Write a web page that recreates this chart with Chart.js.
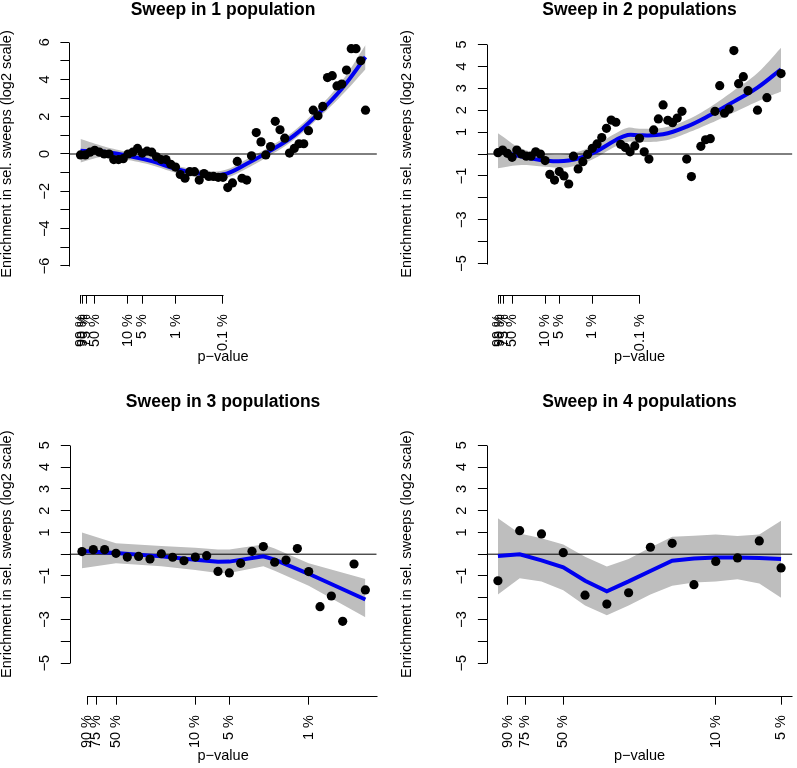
<!DOCTYPE html>
<html>
<head>
<meta charset="utf-8">
<title>Sweep enrichment</title>
<script src="https://cdn.jsdelivr.net/npm/chart.js@4.4.0/dist/chart.umd.min.js"></script>
<style>
  html, body { margin: 0; padding: 0; background: #fff; }
  #wrap { position: relative; width: 797px; height: 768px; }
  canvas { position: absolute; }
</style>
</head>
<body>
<div id="wrap">
  <canvas id="c1" width="400" height="384" style="left:0;top:0"></canvas>
  <canvas id="c2" width="397" height="384" style="left:400px;top:0"></canvas>
  <canvas id="c3" width="400" height="384" style="left:0;top:384px"></canvas>
  <canvas id="c4" width="397" height="384" style="left:400px;top:384px"></canvas>
</div>
<script>
// -log10(p) bins
const xSteps = [0.0, 0.1, 0.2, 0.3, 0.4, 0.5, 0.6, 0.7, 0.8, 0.9,
    1.0, 1.1, 1.2, 1.3, 1.4, 1.5, 1.6, 1.7, 1.8, 1.9,
    2.0, 2.1, 2.2, 2.3, 2.4, 2.5, 2.6, 2.7, 2.8, 2.9,
    3.0, 3.1, 3.2, 3.3, 3.4, 3.5, 3.6, 3.7, 3.8, 3.9,
    4.0, 4.1, 4.2, 4.3, 4.4, 4.5, 4.6, 4.7, 4.8, 4.9,
    5.0, 5.1, 5.2, 5.3, 5.4, 5.5, 5.6, 5.7, 5.8, 5.9, 6.0];

// p-value axis ticks
const pTickPos = [0.00436, 0.04576, 0.12494, 0.30103, 1, 1.30103, 2, 3];
const pTickLabels = ["99 %", "90 %", "75 %", "50 %", "10 %", "5 %", "1 %", "0.1 %"];

const yTicksSix = [-6, -5, -4, -3, -2, -1, 0, 1, 2, 3, 4, 5, 6];
const yLabelsSix = ["\u22126", "", "\u22124", "", "\u22122", "", "0", "", "2", "", "4", "", "6"];
const yTicksFive = [-5, -4, -3, -2, -1, 0, 1, 2, 3, 4, 5];
const yLabelsFive = ["\u22125", "", "\u22123", "", "\u22121", "", "1", "2", "3", "4", "5"];

// Sweep in 1 population
const sweep1X = xSteps;
const sweep1Y = [-0.05, -0.05, 0.1, 0.2, 0.1, 0, 0, -0.3, -0.3, -0.25,
    0, 0.1, 0.3, 0.05, 0.15, 0.1, -0.15, -0.3, -0.3, -0.55,
    -0.7, -1.1, -1.3, -0.95, -0.95, -1.4, -1.05, -1.2, -1.2, -1.25,
    -1.25, -1.8, -1.55, -0.4, -1.3, -1.4, -0.1, 1.15, 0.65, -0.05,
    0.4, 1.75, 1.3, 0.85, 0.05, 0.3, 0.55, 0.55, 1.25, 2.35,
    2.05, 2.55, 4.1, 4.2, 3.65, 3.75, 4.5, 5.65, 5.65, 5.0, 2.35];
const fit1X = [0, 0.5, 1, 1.5, 2, 2.5, 3, 3.5, 4, 4.5, 5, 5.5, 6];
const fit1Y = [0.18, 0.12, -0.1, -0.38, -0.8, -1.05, -1.1, -0.52, 0.18, 1.0, 2.15, 3.5, 5.2];
const band1Hi = [0.8, 0.4, 0.1, -0.15, -0.6, -0.85, -0.88, -0.28, 0.42, 1.25, 2.45, 3.9, 5.85];
const band1Lo = [-0.45, -0.15, -0.32, -0.6, -1.0, -1.25, -1.32, -0.78, -0.06, 0.78, 1.9, 3.15, 4.55];

// Sweep in 2 populations
const sweep2X = [0.0, 0.1, 0.2, 0.3, 0.4, 0.5, 0.6, 0.7, 0.8, 0.9,
    1.0, 1.1, 1.2, 1.3, 1.4, 1.5, 1.6, 1.7, 1.8, 1.9,
    2.0, 2.1, 2.2, 2.3, 2.4, 2.5, 2.6, 2.7, 2.8, 2.9,
    3.0, 3.1, 3.2, 3.3, 3.4, 3.5, 3.6, 3.7, 3.8, 3.9,
    4.0, 4.1, 4.3, 4.4, 4.5, 4.6, 4.7, 4.8, 4.9,
    5.0, 5.1, 5.2, 5.3, 5.5, 5.7, 6.0];
const sweep2Y = [0.06, 0.18, 0.03, -0.15, 0.18, 0.0, -0.1, -0.1, 0.1, 0.0,
    -0.3, -0.93, -1.19, -0.8, -1.0, -1.37, -0.1, -0.68, -0.35, -0.02,
    0.26, 0.46, 0.75, 1.17, 1.55, 1.45, 0.44, 0.3, 0.1, 0.37,
    0.72, 0.1, -0.23, 1.1, 1.6, 2.24, 1.54, 1.43, 1.64, 1.95,
    -0.23, -1.03, 0.35, 0.65, 0.7, 1.95, 3.12, 1.86, 2.05,
    4.72, 3.21, 3.53, 2.89, 2.0, 2.57, 3.67];
const fit2X = [0, 0.5, 1, 1.5, 2, 2.5, 2.75, 3, 3.5, 4, 4.5, 5, 5.5, 6];
const fit2Y = [0.18, -0.12, -0.3, -0.3, 0.03, 0.64, 0.87, 0.85, 0.9, 1.25, 1.78, 2.39, 3.03, 3.87];
const band2Hi = [0.95, 0.25, 0.0, 0.0, 0.35, 0.95, 1.2, 1.15, 1.2, 1.55, 2.15, 2.9, 3.7, 4.85];
const band2Lo = [-0.65, -0.5, -0.58, -0.6, -0.25, 0.35, 0.55, 0.55, 0.6, 0.95, 1.4, 1.9, 2.4, 2.85];

// Sweep in 3 populations
const sweep3X = xSteps.slice(0, 26);
const sweep3Y = [0.12, 0.21, 0.21, 0.04, -0.13, -0.1, -0.22, 0.02, -0.14, -0.3,
    -0.13, -0.07, -0.79, -0.86, -0.42, 0.13, 0.35, -0.37, -0.27, 0.26,
    -0.8, -2.41, -1.92, -3.08, -0.45, -1.64];
const fit3X = [0, 0.3, 0.7, 1.0, 1.2, 1.3, 1.6, 1.7, 2.0, 2.5];
const fit3Y = [0.15, 0.06, -0.1, -0.26, -0.35, -0.34, -0.1, -0.25, -0.9, -2.08];
const band3Hi = [1.0, 0.5, 0.38, 0.3, 0.22, 0.22, 0.45, 0.26, -0.42, -1.14];
const band3Lo = [-0.65, -0.42, -0.55, -0.72, -0.86, -0.86, -0.55, -0.76, -1.45, -2.9];

// Sweep in 4 populations
const sweep4X = xSteps.slice(0, 14);
const sweep4Y = [-1.22, 1.08, 0.93, 0.07, -1.88, -2.29, -1.77, 0.32, 0.5, -1.4,
    -0.33, -0.17, 0.61, -0.63];
const fit4X = sweep4X;
const fit4Y = [-0.08, 0.0, -0.28, -0.6, -1.22, -1.7, -1.25, -0.77, -0.3, -0.2,
    -0.15, -0.15, -0.18, -0.22];
const band4Hi = [1.65, 0.95, 0.73, 0.44, -0.12, -0.57, -0.22, 0.31, 0.8, 0.85,
    0.9, 0.83, 0.9, 1.54];
const band4Lo = [-1.85, -1.1, -1.25, -1.65, -2.35, -2.8, -2.35, -1.85, -1.45, -1.3,
    -1.25, -1.15, -1.35, -2.0];

Chart.defaults.font.family = "'Liberation Sans', Arial, sans-serif";
Chart.defaults.font.size = 14.5;
Chart.defaults.color = "#000";

// R-style axis lines: only from first to last tick
const axisLines = {
    id: "axisLines",
    afterDraw(chart, args, opts) {
        const { ctx, chartArea, scales } = chart;
        const al = v => Math.round(v) + 0.5;
        ctx.save();
        ctx.strokeStyle = "#000";
        ctx.lineWidth = 1;
        ctx.beginPath();
        const yx = al(chartArea.left);
        ctx.moveTo(yx, al(scales.y.getPixelForValue(opts.yFrom)));
        ctx.lineTo(yx, al(scales.y.getPixelForValue(opts.yTo)));
        const xy = al(scales.y.getPixelForValue(opts.xAt));
        ctx.moveTo(al(scales.x.getPixelForValue(opts.xFrom)), xy);
        ctx.lineTo(al(Math.min(scales.x.getPixelForValue(opts.xTo), chartArea.right)), xy);
        ctx.stroke();
        ctx.restore();
    }
};

function drawPanel(p) {
    const pts = p.ptX.map((x, i) => ({ x: x, y: p.ptY[i] }));
    const fit = p.fitX.map((x, i) => ({ x: x, y: p.fitY[i] }));
    const hi = p.fitX.map((x, i) => ({ x: x, y: p.hiY[i] }));
    const lo = p.fitX.map((x, i) => ({ x: x, y: p.loY[i] }));
    const xt = p.xIdx.map(i => pTickPos[i]);
    const xl = p.xIdx.map(i => pTickLabels[i]);
    const zeroFit = s => { s.paddingLeft = 0; s.paddingRight = 0; s.paddingTop = 0; s.paddingBottom = 0; };
    const tickFont = { family: "'Liberation Sans', Arial, sans-serif", size: 14.5 };

    new Chart(document.getElementById(p.id), {
        type: "line",
        data: {
            datasets: [
                { data: pts, showLine: false, pointRadius: 4.6, pointBackgroundColor: "#000", pointBorderWidth: 0 },
                { data: fit, borderColor: "#0000f0", borderWidth: 4, pointRadius: 0, tension: p.tension, fill: false },
                { data: [{ x: p.xMin, y: 0 }, { x: p.xMax, y: 0 }], borderColor: "#000", borderWidth: 1, pointRadius: 0, fill: false },
                { data: hi, borderColor: "transparent", borderWidth: 0, pointRadius: 0, tension: p.tension, fill: "+1", backgroundColor: "#bebebe" },
                { data: lo, borderColor: "transparent", borderWidth: 0, pointRadius: 0, tension: p.tension, fill: false }
            ]
        },
        options: {
            responsive: false,
            animation: false,
            events: [],
            layout: { padding: p.pad },
            plugins: {
                legend: { display: false },
                tooltip: { enabled: false },
                title: {
                    display: true, fullSize: false, text: p.title, color: "#000",
                    font: { size: 17.5, weight: "bold", lineHeight: 1 },
                    padding: p.titlePad
                },
                axisLines: { yFrom: p.yTicks[0], yTo: p.yTicks[p.yTicks.length - 1], xFrom: xt[0], xTo: p.xLineTo, xAt: p.xAxisAt }
            },
            scales: {
                x: {
                    type: "linear", min: p.xMin, max: p.xMax,
                    position: { y: p.xAxisAt },
                    border: { display: false },
                    grid: { drawOnChartArea: false, drawTicks: true, tickLength: 8.7, color: "#000" },
                    ticks: {
                        autoSkip: false, minRotation: 90, maxRotation: 90, padding: 10.6,
                        color: "#000", font: tickFont,
                        callback: (v, i) => xl[i]
                    },
                    afterBuildTicks: s => { s.ticks = xt.map(v => ({ value: v })); },
                    afterFit: s => { s.height = p.xAxisH; zeroFit(s); },
                    title: { display: true, text: "p\u2212value", color: "#000", font: { size: 14.5, lineHeight: 1.2 }, padding: 0 }
                },
                y: {
                    type: "linear", min: p.yMin, max: p.yMax, position: "left",
                    border: { display: false },
                    grid: { drawOnChartArea: false, drawTicks: true, tickLength: 8.7, color: "#000" },
                    ticks: {
                        autoSkip: false, minRotation: 90, maxRotation: 90, crossAlign: "center", padding: 7.6,
                        color: "#000", font: tickFont,
                        callback: (v, i) => p.yLabels[i]
                    },
                    afterBuildTicks: s => { s.ticks = p.yTicks.map(v => ({ value: v })); },
                    afterFit: s => { s.width = p.yAxisW; zeroFit(s); },
                    title: { display: true, text: "Enrichment in sel. sweeps (log2 scale)", color: "#000", font: { size: 14.5, lineHeight: 1 }, padding: 0 }
                }
            }
        },
        plugins: [axisLines]
    });
}

drawPanel({
    id: "c1", title: "Sweep in 1 population",
    ptX: sweep1X, ptY: sweep1Y, fitX: fit1X, fitY: fit1Y, hiY: band1Hi, loY: band1Lo, tension: 0.4,
    xMin: -0.24, xMax: 6.24, yMin: -6.48, yMax: 6.48, xAxisAt: -7.545,
    yTicks: yTicksSix, yLabels: yLabelsSix, xIdx: [0, 1, 2, 3, 4, 5, 6, 7], xLineTo: 3,
    pad: { left: 0, top: 0, right: 23.1, bottom: 109.15 }, titlePad: { top: 0.95, bottom: 14.7 },
    xAxisH: 70.7, yAxisW: 69.1
});

drawPanel({
    id: "c2", title: "Sweep in 2 populations",
    ptX: sweep2X, ptY: sweep2Y, fitX: fit2X, fitY: fit2Y, hiY: band2Hi, loY: band2Lo, tension: 0.4,
    xMin: -0.24, xMax: 6.24, yMin: -5.4, yMax: 5.4, xAxisAt: -6.425,
    yTicks: yTicksFive, yLabels: yLabelsFive, xIdx: [0, 1, 2, 3, 4, 5, 6, 7], xLineTo: 3,
    pad: { left: 0, top: 0, right: 2.6, bottom: 111.7 }, titlePad: { top: 0.95, bottom: 17.25 },
    xAxisH: 70.7, yAxisW: 86.6
});

drawPanel({
    id: "c3", title: "Sweep in 3 populations",
    ptX: sweep3X, ptY: sweep3Y, fitX: fit3X, fitY: fit3Y, hiY: band3Hi, loY: band3Lo, tension: 0,
    xMin: -0.11, xMax: 2.6, yMin: -5.4, yMax: 5.4, xAxisAt: -6.5,
    yTicks: yTicksFive, yLabels: yLabelsFive, xIdx: [1, 2, 3, 4, 5, 6], xLineTo: 3,
    pad: { left: 0, top: 0, right: 23.3, bottom: 96.2 }, titlePad: { top: 9.35, bottom: 25.75 },
    xAxisH: 68.7, yAxisW: 69.5
});

drawPanel({
    id: "c4", title: "Sweep in 4 populations",
    ptX: sweep4X, ptY: sweep4Y, fitX: fit4X, fitY: fit4Y, hiY: band4Hi, loY: band4Lo, tension: 0,
    xMin: -0.052, xMax: 1.352, yMin: -5.4, yMax: 5.4, xAxisAt: -6.5,
    yTicks: yTicksFive, yLabels: yLabelsFive, xIdx: [1, 2, 3, 4, 5], xLineTo: 2,
    pad: { left: 0, top: 0, right: 2.5, bottom: 96.2 }, titlePad: { top: 9.35, bottom: 25.75 },
    xAxisH: 68.7, yAxisW: 86.6
});
</script>
</body>
</html>
